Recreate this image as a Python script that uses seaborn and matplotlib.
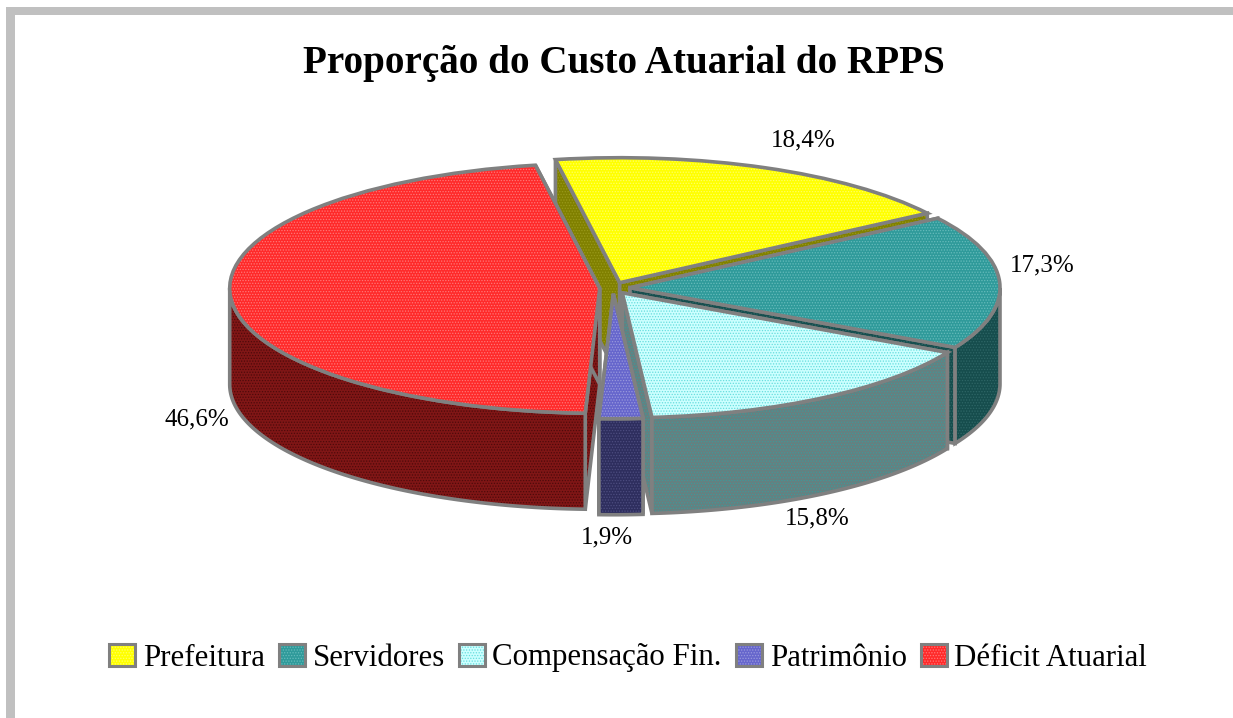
import numpy as np
import seaborn as sns
from matplotlib import pyplot as plt
from matplotlib.colors import to_rgba
from matplotlib.patches import Patch, Rectangle

labels = ['Prefeitura', 'Servidores', 'Compensação Fin.', 'Patrimônio', 'Déficit Atuarial']
values = [18.4, 17.3, 15.8, 1.9, 46.6]
top_colors = ['#FFFF00', '#2F9A9A', '#CCFFFF', '#6666CC', '#FF2A2A']
dot_colors = ['#FFFF66', '#66BBBB', '#66DDDD', '#9999DD', '#FF7777']
side_colors = ['#808000', '#164D4D', '#668080', '#2E2E5E', '#801616']
side_dots = ['#99991A', '#2E6666', '#3F9999', '#4D4D80', '#4D0A0A']
explode = [0.046, 0.046, 0.046, 0.046, 0.036]

sns.set_theme(style='white')
plt.rcParams['font.family'] = ['Liberation Serif', 'DejaVu Serif']
plt.rcParams['hatch.linewidth'] = 0.6

W, H = 1233, 718
GREY = '#808080'
RX, RY = 370.0, 125.0
CX, CY = 613.0, 288.0
DEPTH = 96.0 / RY
START = 100.0

fig = plt.figure(figsize=(W / 100, H / 100), dpi=100, facecolor='white')
ax = fig.add_axes([0, 0, 1, 1])

# page frame, only top and left
fig.add_artist(Rectangle((6 / W, 0), 9 / W, 1 - 7 / H, transform=fig.transFigure, color='#C0C0C0', lw=0))
fig.add_artist(Rectangle((6 / W, 1 - 15 / H), 1 - 6 / W, 8 / H, transform=fig.transFigure, color='#C0C0C0', lw=0))


def painted(xs, ys, color, dots):
    ax.fill(xs, ys, facecolor=color, edgecolor=dots, hatch='......', lw=0)
    ax.fill(xs, ys, facecolor='none', edgecolor=GREY, lw=2.6, joinstyle='miter')


# walls of each slice, back slices first
fracs = np.array(values) / sum(values)
ends = START - 360 * np.cumsum(fracs)
starts = ends + 360 * fracs
for i in [0, 1, 4, 2, 3]:
    mid = np.radians((starts[i] + ends[i]) / 2)
    ax0, ay0 = explode[i] * np.cos(mid), explode[i] * np.sin(mid)
    t = np.radians(np.linspace(starts[i], ends[i], 240))
    rim_x = ax0 + np.cos(t)
    rim_y = ay0 + np.sin(t)
    for k in [0, -1]:
        painted([ax0, rim_x[k], rim_x[k], ax0],
                [ay0, rim_y[k], rim_y[k] - DEPTH, ay0 - DEPTH],
                side_colors[i], side_dots[i])
    # outer wall only on the front half of the rim
    front = np.sin(t) < 0
    if front.any():
        painted(np.r_[rim_x[front], rim_x[front][::-1]],
                np.r_[rim_y[front], rim_y[front][::-1] - DEPTH],
                side_colors[i], side_dots[i])

# top faces
wedges, _ = ax.pie(values, explode=explode, colors=top_colors, startangle=START, counterclock=False,
                   wedgeprops={'lw': 0})
for w, d in zip(wedges, dot_colors):
    w.set_edgecolor(d)
    w.set_hatch('......')
ax.pie(values, explode=explode, startangle=START, counterclock=False,
       wedgeprops={'facecolor': 'none', 'edgecolor': GREY, 'lw': 2.6})

ax.set_aspect('auto')
ax.set_xlim(-CX / RX, (W - CX) / RX)
ax.set_ylim(-(H - CY) / RY, CY / RY)
ax.axis('off')

fig.text(624 / W, 1 - 63 / H, 'Proporção do Custo Atuarial do RPPS', ha='center', va='center',
         fontsize=28.2, fontweight='bold', color='black')

# percent labels
label_pos = [(803, 140), (1042, 265), (817, 518), (607, 537), (197, 419)]
for v, (px, py) in zip(values, label_pos):
    fig.text(px / W, 1 - py / H, f'{v:.1f}'.replace('.', ',') + '%', ha='center', va='center',
             fontsize=18, color='black')

handles = []
for c, d in zip(top_colors, dot_colors):
    p = Patch(facecolor=c, edgecolor=GREY, lw=2.2, hatch='......')
    p._hatch_color = to_rgba(d)
    handles.append(p)
fig.legend(handles, labels, loc='center', bbox_to_anchor=(628 / W, 1 - 658 / H), ncol=5, frameon=False,
           fontsize=22.2, handlelength=0.85, handleheight=0.7, handletextpad=0.25, columnspacing=0.45,
           borderpad=0, labelcolor='black')

plt.savefig('out.png', dpi=100)
